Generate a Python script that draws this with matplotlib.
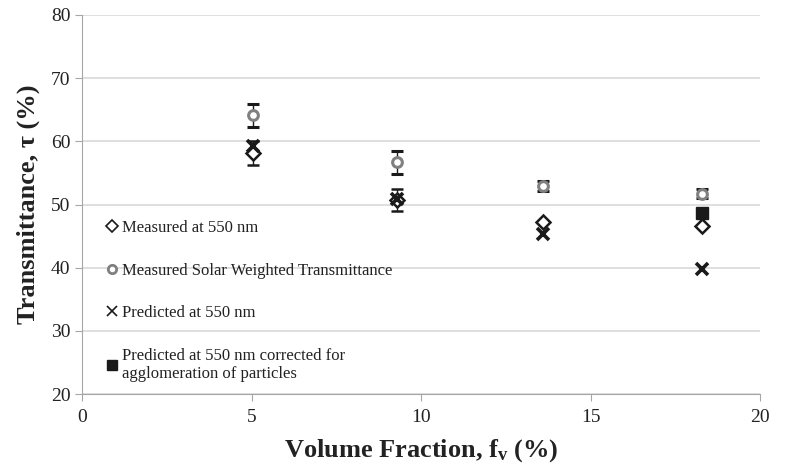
import numpy as np
import matplotlib
matplotlib.use("Agg")
import matplotlib.pyplot as plt
from matplotlib.lines import Line2D

plt.rcParams['font.family'] = ['Liberation Serif', 'DejaVu Serif']
plt.rcParams['mathtext.fontset'] = 'custom'
plt.rcParams['mathtext.rm'] = 'Liberation Serif'
plt.rcParams['mathtext.bf'] = 'Liberation Serif:bold'

# Data
fv = [5.05, 9.3, 13.6, 18.3]
meas_550 = [58.2, 50.7, 47.2, 46.6]
meas_550_err = [1.9, 1.7, 0.0, 0.0]
solar = [64.1, 56.7, 53.0, 51.7]
solar_err = [1.8, 1.8, 0.8, 0.7]
pred_550 = [59.3, 50.8, 45.4, 39.8]
fv_corr = [18.3]
pred_corr = [48.6]

labels = ["Measured at 550 nm",
          "Measured Solar Weighted Transmittance",
          "Predicted at 550 nm",
          "Predicted at 550 nm corrected for\nagglomeration of particles"]

dark = '#1a1a1a'
grey = '#808080'

fig = plt.figure(figsize=(7.9, 4.68), dpi=100)
ax = fig.add_axes([0.104, 0.158, 0.858, 0.81])

ax.errorbar(fv, solar, yerr=solar_err, fmt='o', ms=7, mfc='white', mec=grey,
            mew=2.2, ecolor=dark, elinewidth=1, capsize=4, capthick=1, zorder=3)
ax.errorbar(fv, meas_550, yerr=meas_550_err, fmt='D', ms=7, mfc='white', mec=dark,
            mew=1.8, ecolor=dark, elinewidth=1, capsize=4, capthick=1, zorder=4)
ax.plot(fv, pred_550, ls='none', marker='x', ms=8, mec=dark, mew=2.6, zorder=5)
ax.plot(fv_corr, pred_corr, ls='none', marker='s', ms=8, color=dark, zorder=5)

ax.set_xlim(0, 20)
ax.set_ylim(20, 80)
ax.set_xticks([0, 5, 10, 15, 20])
ax.set_yticks(np.arange(20, 81, 10))
ax.yaxis.grid(True, color='#d9d9d9', lw=1.2)
ax.set_axisbelow(True)
for s in ['top', 'right']:
    ax.spines[s].set_visible(False)
for s in ['left', 'bottom']:
    ax.spines[s].set_color('#a6a6a6')
ax.tick_params(axis='both', colors='#a6a6a6', labelcolor='#222222', labelsize=14,
               length=5, direction='out')
ax.tick_params(axis='x', pad=6)

ax.set_xlabel(r'Volume Fraction, $\mathbf{f_{v}}$ (%)', fontsize=19, fontweight='bold',
              color='#222222', labelpad=8)
ax.set_ylabel('Transmittance, τ (%)', fontsize=19, fontweight='bold', color='#222222',
              labelpad=8)

handles = [
    Line2D([], [], ls='none', marker='D', ms=6, mfc='white', mec=dark, mew=1.2),
    Line2D([], [], ls='none', marker='o', ms=6, mfc='white', mec=grey, mew=2),
    Line2D([], [], ls='none', marker='x', ms=7, mec=dark, mew=1.2),
    Line2D([], [], ls='none', marker='s', ms=7, color=dark),
]
leg = ax.legend(handles, labels, loc='upper left', bbox_to_anchor=(0.027, 0.477),
                frameon=False, fontsize=12, handlelength=0.6, handletextpad=0.3,
                labelspacing=1.6, borderaxespad=0)
for t in leg.get_texts():
    t.set_color('#222222')

fig.savefig('out.png', dpi=100)
